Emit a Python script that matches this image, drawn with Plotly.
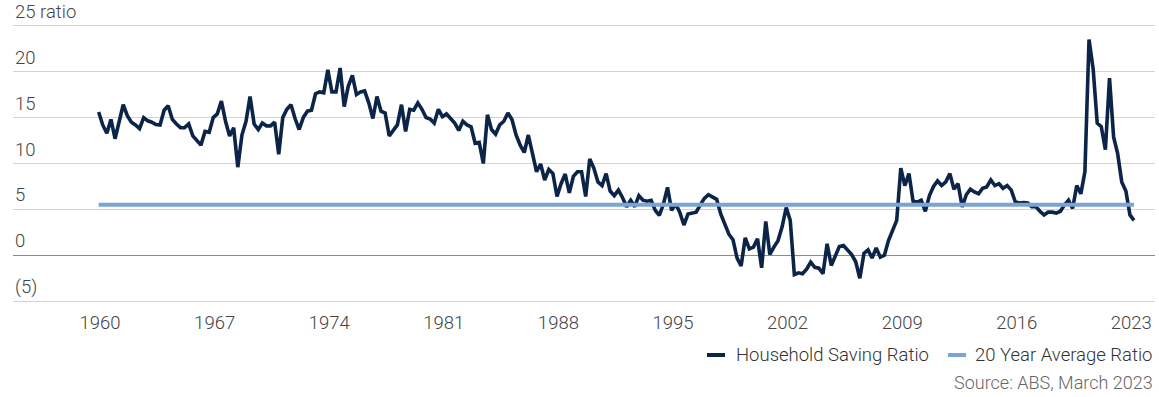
import pandas as pd
import plotly.graph_objects as go

# Quarterly household saving ratio (%), Dec 1959 - Mar 2023
saving_ratio = [
    15.6, 14.2, 13.3, 14.8, 12.7, 14.5, 16.4, 15.2, 14.5, 14.2,
    13.8, 15.0, 14.65, 14.5, 14.25, 14.2, 15.8, 16.3, 14.8, 14.3,
    13.9, 13.9, 14.3, 13.0, 12.5, 12.0, 13.5, 13.4, 15.0, 15.4,
    16.8, 14.6, 13.0, 13.9, 9.6, 13.1, 14.6, 17.3, 14.3, 13.7,
    14.4, 14.1, 14.1, 14.5, 11.0, 15.0, 15.9, 16.4, 14.9, 13.7,
    15.0, 15.7, 15.8, 17.6, 17.8, 17.7, 20.2, 17.8, 17.8, 20.4,
    16.2, 18.4, 19.6, 17.5, 17.8, 17.9, 16.6, 14.9, 17.3, 15.7,
    15.5, 13.0, 13.6, 14.2, 16.4, 13.5, 15.9, 15.8, 16.6, 15.9,
    15.0, 14.85, 14.4, 15.9, 15.1, 15.4, 14.9, 14.4, 13.6, 14.6,
    14.2, 14.0, 12.2, 12.3, 10.0, 15.3, 13.7, 13.2, 14.2, 14.6,
    15.5, 14.8, 13.1, 12.0, 11.2, 13.1, 11.1, 9.1, 9.95, 8.2,
    9.35, 8.9, 6.4, 7.8, 8.85, 6.8, 8.6, 9.1, 9.1, 6.4,
    10.5, 9.5, 8.0, 7.6, 8.9, 7.0, 6.5, 7.1, 6.3, 5.3,
    6.0, 5.3, 6.5, 6.0, 5.9, 6.0, 4.9, 4.35, 5.56, 7.4,
    4.9, 5.6, 4.7, 3.3, 4.5, 4.6, 4.7, 5.5, 6.2, 6.6,
    6.4, 6.1, 4.5, 3.4, 2.3, 1.7, -0.3, -1.15, 1.9, 0.7,
    0.9, 1.8, -1.35, 3.7, 0.1, 0.9, 1.6, 3.1, 5.2, 3.8,
    -2.1, -1.9, -2.0, -1.5, -0.75, -1.3, -1.4, -2.0, 1.25, -1.1,
    -0.15, 0.95, 1.06, 0.6, 0.08, -0.7, -2.5, 0.2, 0.6, -0.3,
    0.8, -0.2, 0.0, 1.6, 2.8, 3.8, 9.5, 7.6, 8.9, 5.9,
    5.8, 6.0, 4.8, 6.5, 7.5, 8.1, 7.6, 8.0, 8.9, 7.2,
    7.8, 5.26, 6.6, 7.2, 6.9, 6.7, 7.3, 7.45, 8.2, 7.6,
    7.8, 7.3, 7.6, 7.1, 5.8, 5.7, 5.75, 5.7, 5.3, 5.3,
    4.8, 4.4, 4.7, 4.7, 4.6, 4.8, 5.5, 6.0, 5.1, 7.6,
    6.7, 9.1, 23.5, 20.3, 14.4, 14.0, 11.5, 19.3, 12.9, 11.1,
    8.0, 7.0, 4.4, 3.8,
]
first_quarter = "1959-12-01"
average_ratio = [5.5]

tick_years = [1960, 1967, 1974, 1981, 1988, 1995, 2002, 2009, 2016, 2023]
y_ticks = [-5, 0, 5, 10, 15, 20, 25]
y_tick_labels = ["(5)", "0", "5", "10", "15", "20", "25 ratio"]

series_names = ["Household Saving Ratio", "20 Year Average Ratio"]
source_note = "Source: ABS, March 2023"

quarters = pd.date_range(first_quarter, periods=len(saving_ratio), freq="3MS")

NAVY = "#0b2447"
LIGHT_BLUE = "#7ba3d6"
TEXT = "#444444"
FONT = "Roboto"
WEIGHT = 300
SIZE = 18.5

# Plot area in pixels (slightly padded so the -5 and 25 gridlines are drawn)
plot_left, plot_right, plot_top, plot_bottom = 13, 1155, 23, 304
W, H = 1159, 397

fig = go.Figure()
fig.add_trace(go.Scatter(
    x=quarters, y=saving_ratio, mode="lines", name=series_names[0],
    line=dict(color=NAVY, width=3.6), showlegend=False,
))
fig.add_trace(go.Scatter(
    x=[quarters[0], quarters[-1]], y=average_ratio * 2, mode="lines",
    name=series_names[1], line=dict(color=LIGHT_BLUE, width=4), showlegend=False,
))

fig.update_layout(
    width=W, height=H,
    margin=dict(l=plot_left, r=W - plot_right, t=plot_top, b=H - plot_bottom),
    paper_bgcolor="white", plot_bgcolor="white",
    font=dict(family=FONT, size=SIZE, color=TEXT, weight=WEIGHT),
)
fig.update_xaxes(
    type="date",
    range=["1954-09-07", "2024-06-12"],
    tickvals=[f"{y}-01-01" for y in tick_years],
    ticktext=[str(y) for y in tick_years],
    showgrid=False, showline=False, zeroline=False, ticks="",
    ticklabelstandoff=5,
    tickfont=dict(family=FONT, size=SIZE, color=TEXT, weight=WEIGHT),
)
fig.update_yaxes(
    range=[-5.3, 25.3],
    tickvals=y_ticks,
    showticklabels=False,
    showgrid=True, gridcolor="#d4d4d4", gridwidth=1,
    zeroline=True, zerolinecolor="#8c8c8c", zerolinewidth=1,
    showline=False, ticks="",
)

# Value labels sit just above their gridlines at the left edge
for value, label in zip(y_ticks, y_tick_labels):
    fig.add_annotation(
        text=label, xref="paper", yref="y", x=0, y=value,
        xanchor="left", yanchor="middle", yshift=14, showarrow=False,
        font=dict(family=FONT, size=SIZE, color=TEXT, weight=WEIGHT),
    )


def px_x(p):
    return (p - plot_left) / (plot_right - plot_left)


def px_y(p):
    return (plot_bottom - p) / (plot_bottom - plot_top)


# Legend row and source note below the plot area
legend_items = [
    (series_names[0], NAVY, 707, 734),
    (series_names[1], LIGHT_BLUE, 948, 973),
]
for label, color, sym_x, text_x in legend_items:
    fig.add_shape(
        type="line", xref="paper", yref="paper",
        x0=px_x(sym_x), x1=px_x(sym_x + 18), y0=px_y(355), y1=px_y(355),
        line=dict(color=color, width=4),
    )
    fig.add_annotation(
        text=label, xref="paper", yref="paper", x=px_x(text_x), y=px_y(355),
        xanchor="left", yanchor="middle", showarrow=False,
        font=dict(family=FONT, size=SIZE, color="#333333", weight=WEIGHT),
    )

fig.add_annotation(
    text=source_note, xref="paper", yref="paper", x=1, y=px_y(382),
    xanchor="right", yanchor="middle", showarrow=False,
    font=dict(family=FONT, size=SIZE - 0.5, color="#666666", weight=WEIGHT),
)

fig.write_html("out.html")
